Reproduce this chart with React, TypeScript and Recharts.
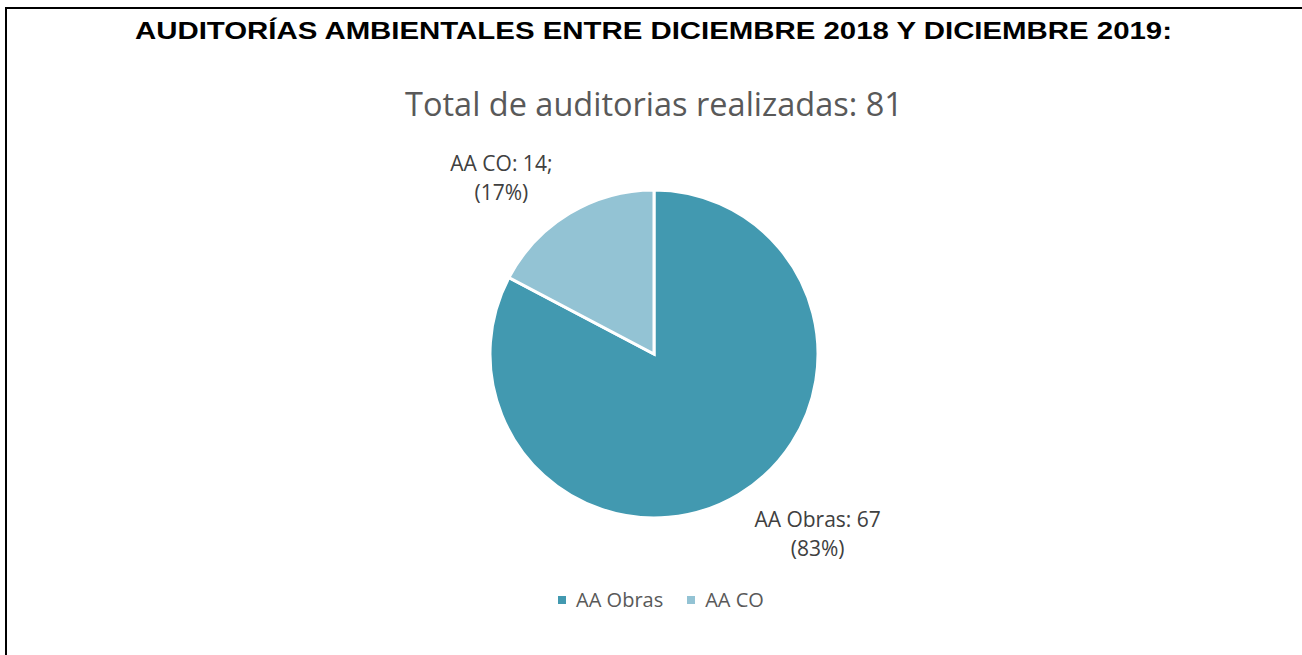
import { Legend, Pie, PieChart, Cell } from "recharts";

const categories = ["AA Obras", "AA CO"];
const counts = [67, 14];
const percents = ["83%", "17%"];
const heading = "AUDITORÍAS AMBIENTALES ENTRE DICIEMBRE 2018 Y DICIEMBRE 2019:";
const chartTitle = "Total de auditorias realizadas: 81";

const colors = ["#4299b0", "#93c3d4"];

const rows = categories.map((name, i) => ({ name, value: counts[i], pct: percents[i] }));

const RAD = Math.PI / 180;

function renderLabel(props: any) {
  const { cx, cy, midAngle, outerRadius, index } = props;
  const r = outerRadius * 1.27;
  const cos = Math.cos(-midAngle * RAD);
  const sin = Math.sin(-midAngle * RAD);
  const x = cx + r * cos + (cos > 0 ? 56 : -45);
  const y = cy + r * sin - 5;
  const row = rows[index];
  const first = index === 0 ? `${row.name}: ${row.value}` : `${row.name}: ${row.value};`;
  return (
    <text
      x={x}
      y={y}
      textAnchor="middle"
      fill="#404040"
      fontSize={21}
      fontFamily="'Open Sans', sans-serif"
    >
      <tspan x={x} dy={0}>{first}</tspan>
      <tspan x={x} dy={29}>({row.pct})</tspan>
    </text>
  );
}

function LegendContent() {
  return (
    <div style={{ display: "flex", justifyContent: "center", gap: 24, fontFamily: "'Open Sans', sans-serif", fontSize: 20, color: "#595959", lineHeight: "28px" }}>
      {rows.map((row, i) => (
        <div key={row.name} style={{ display: "flex", alignItems: "center" }}>
          <span style={{ width: 8, height: 8, background: colors[i], marginRight: 10, display: "inline-block" }} />
          <span>{row.name}</span>
        </div>
      ))}
    </div>
  );
}

export default function App() {
  return (
    <div style={{ position: "absolute", left: 0, top: 0, width: 1302, height: 655, background: "#fff", overflow: "hidden" }}>
      <div style={{ position: "absolute", left: 5, top: 7, right: -10, bottom: -10, borderTop: "2px solid #000", borderLeft: "2px solid #000" }} />
      <svg style={{ position: "absolute", left: 0, top: 0 }} width={1302} height={50}>
        <text
          x={135}
          y={39}
          fontFamily="'Liberation Sans', Arial, sans-serif"
          fontWeight="bold"
          fontSize={24}
          textLength={1037}
          lengthAdjust="spacingAndGlyphs"
          fill="#000"
        >
          {heading}
        </text>
      </svg>
      <div
        style={{
          position: "absolute",
          left: 0,
          width: 1308,
          top: 83,
          textAlign: "center",
          fontFamily: "'Open Sans', sans-serif",
          fontSize: 32.5,
          color: "#595959",
          lineHeight: "42px",
        }}
      >
        {chartTitle}
      </div>
      <div style={{ position: "absolute", left: 0, top: 0 }}>
        <PieChart width={1302} height={655} margin={{ top: 0, right: 0, bottom: 0, left: 0 }}>
          <Pie
            data={rows}
            dataKey="value"
            nameKey="name"
            cx={654}
            cy={354}
            outerRadius={164}
            startAngle={90}
            endAngle={-270}
            stroke="#ffffff"
            strokeWidth={3}
            label={renderLabel}
            labelLine={false}
            isAnimationActive={false}
          >
            {rows.map((row, i) => (
              <Cell key={row.name} fill={colors[i]} />
            ))}
          </Pie>
          <Legend content={<LegendContent />} wrapperStyle={{ top: 586, left: 10, width: 1302 }} />
        </PieChart>
      </div>
    </div>
  );
}
